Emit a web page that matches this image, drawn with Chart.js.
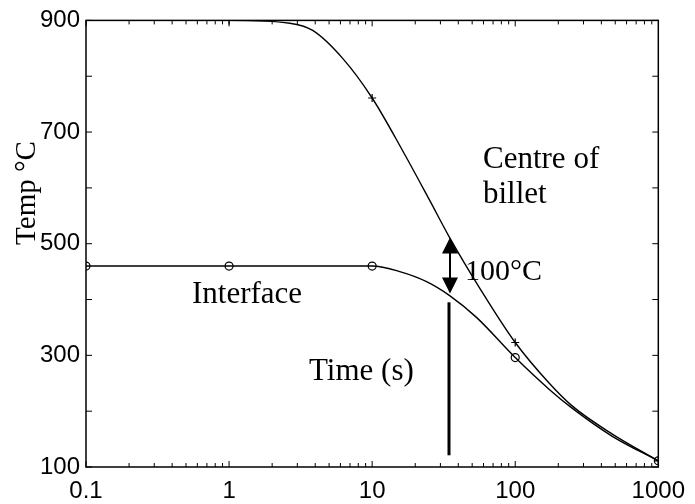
<!DOCTYPE html>
<html>
<head>
<meta charset="utf-8">
<script src="https://cdn.jsdelivr.net/npm/chart.js@4/dist/chart.umd.min.js"></script>
<style>
  html, body { margin: 0; padding: 0; background: #fff; }
  canvas { display: block; }
</style>
</head>
<body>
<canvas id="chart" width="695" height="504"></canvas>
<script>
// Cooling curves (time in s, temperature in degC)
const centreTime = [0.1, 1, 2.66, 3.84, 6.22, 10, 16.3, 25.2, 34.8, 56.3, 100, 173, 251, 477, 1000];
const centreTemp = [900, 900, 895, 882, 832, 761, 667, 578, 511, 421, 323, 250, 209, 159, 111];
const interfaceTime = [0.1, 1, 10, 15.6, 24, 34.8, 53.6, 100, 173, 251, 477, 1000];
const interfaceTemp = [460, 460, 460, 450, 432, 407, 368, 296, 239, 205, 155, 111];

// marker positions (one per decade)
const markerTime = [0.1, 1, 10, 100, 1000];
const centreMarkTemp = [900, 900, 761, 323, 111];
const interfaceMarkTemp = [460, 460, 460, 296, 111];

// axis ticks
const xTickValues = [0.1, 1, 10, 100, 1000];
const xTickLabels = ['0.1', '1', '10', '100', '1000'];
const yTickLabels = [100, 300, 500, 700, 900];

// "100°C" gap arrow and the time marker line
const gapTime = 35;
const gapTop = 511, gapBottom = 411;
const lineTop = 395, lineBottom = 121;

function toPoints(xs, ys) {
    return xs.map((x, i) => ({ x: x, y: ys[i] }));
}

const serif = '"Liberation Serif", "Times New Roman", serif';
const sans = '"Liberation Sans", Arial, sans-serif';

// box, inward ticks, labels and arrows
const decorPlugin = {
    id: 'decor',
    afterDraw(chart) {
        const { ctx, chartArea: a, scales: { x, y } } = chart;
        ctx.save();
        ctx.strokeStyle = '#000';
        ctx.fillStyle = '#000';
        ctx.lineWidth = 1.5;
        ctx.strokeRect(a.left, a.top, a.right - a.left, a.bottom - a.top);

        ctx.lineWidth = 1;
        ctx.beginPath();
        for (let d = 0.1; d < 1000; d *= 10) {
            for (let k = 1; k <= 9; k++) {
                const px = x.getPixelForValue(d * k);
                const len = k === 1 ? 6 : 4;
                ctx.moveTo(px, a.bottom); ctx.lineTo(px, a.bottom - len);
                ctx.moveTo(px, a.top); ctx.lineTo(px, a.top + len);
            }
        }
        for (let v = 100; v <= 900; v += 100) {
            const py = y.getPixelForValue(v);
            ctx.moveTo(a.left, py); ctx.lineTo(a.left + 6, py);
            ctx.moveTo(a.right, py); ctx.lineTo(a.right - 6, py);
        }
        ctx.stroke();

        // y axis title
        ctx.save();
        ctx.translate(27, 193);
        ctx.rotate(-Math.PI / 2);
        ctx.font = '29px ' + serif;
        ctx.textAlign = 'center';
        ctx.textBaseline = 'middle';
        ctx.fillText('Temp \u00B0C', 0, 0);
        ctx.restore();

        // annotations
        ctx.font = '31px ' + serif;
        ctx.textAlign = 'left';
        ctx.textBaseline = 'alphabetic';
        ctx.fillText('Centre of', 483, 168);
        ctx.fillText('billet', 483, 203);
        ctx.fillText('Interface', 192, 303);
        ctx.fillText('Time (s)', 309, 380);
        ctx.font = '30px ' + serif;
        ctx.fillText('100\u00B0C', 465, 280);

        // double arrow between the curves
        const ax = x.getPixelForValue(gapTime);
        const yT = y.getPixelForValue(gapTop);
        const yB = y.getPixelForValue(gapBottom);
        ctx.lineWidth = 2;
        ctx.beginPath();
        ctx.moveTo(ax, yT + 10); ctx.lineTo(ax, yB - 10);
        ctx.stroke();
        ctx.beginPath();
        ctx.moveTo(ax, yT); ctx.lineTo(ax - 8, yT + 16); ctx.lineTo(ax + 8, yT + 16); ctx.closePath();
        ctx.moveTo(ax, yB); ctx.lineTo(ax - 8, yB - 16); ctx.lineTo(ax + 8, yB - 16); ctx.closePath();
        ctx.fill();

        // vertical marker line
        ctx.lineWidth = 3;
        ctx.beginPath();
        ctx.moveTo(ax - 1, y.getPixelForValue(lineTop));
        ctx.lineTo(ax - 1, y.getPixelForValue(lineBottom));
        ctx.stroke();
        ctx.restore();
    }
};

const lineStyle = {
    showLine: true,
    borderColor: '#000',
    borderWidth: 1.4,
    pointRadius: 0,
    cubicInterpolationMode: 'monotone',
    fill: false
};

new Chart(document.getElementById('chart').getContext('2d'), {
    type: 'scatter',
    data: {
        datasets: [
            Object.assign({ label: 'Centre of billet', data: toPoints(centreTime, centreTemp) }, lineStyle),
            Object.assign({ label: 'Interface', data: toPoints(interfaceTime, interfaceTemp) }, lineStyle),
            {
                label: 'Centre markers',
                data: toPoints(markerTime, centreMarkTemp),
                showLine: false,
                pointStyle: 'cross',
                pointRadius: 4,
                borderColor: '#000',
                borderWidth: 1.2
            },
            {
                label: 'Interface markers',
                data: toPoints(markerTime, interfaceMarkTemp),
                showLine: false,
                pointStyle: 'circle',
                pointRadius: 4,
                backgroundColor: '#fff',
                borderColor: '#000',
                borderWidth: 1.2
            }
        ]
    },
    options: {
        responsive: false,
        animation: false,
        devicePixelRatio: 1,
        layout: { padding: { left: 0, top: 19, right: 36, bottom: 0 } },
        plugins: {
            legend: { display: false },
            tooltip: { enabled: false }
        },
        scales: {
            x: {
                type: 'logarithmic',
                min: 0.1,
                max: 1000,
                grid: { display: false, drawTicks: false },
                border: { display: false },
                ticks: {
                    autoSkip: false,
                    maxRotation: 0,
                    padding: 10,
                    color: '#000',
                    font: { family: sans, size: 24 },
                    callback: function(value) {
                        const i = xTickValues.findIndex(v => Math.abs(v - value) < v * 1e-6);
                        return i >= 0 ? xTickLabels[i] : '';
                    }
                },
                afterFit: function(scale) { scale.height = 37; }
            },
            y: {
                min: 100,
                max: 900,
                grid: { display: false, drawTicks: false },
                border: { display: false },
                ticks: {
                    stepSize: 100,
                    autoSkip: false,
                    padding: 6,
                    color: '#000',
                    font: { family: sans, size: 24 },
                    callback: function(value) {
                        return yTickLabels.includes(value) ? String(value) : '';
                    }
                },
                afterFit: function(scale) { scale.width = 86; }
            }
        }
    },
    plugins: [decorPlugin]
});
</script>
</body>
</html>
